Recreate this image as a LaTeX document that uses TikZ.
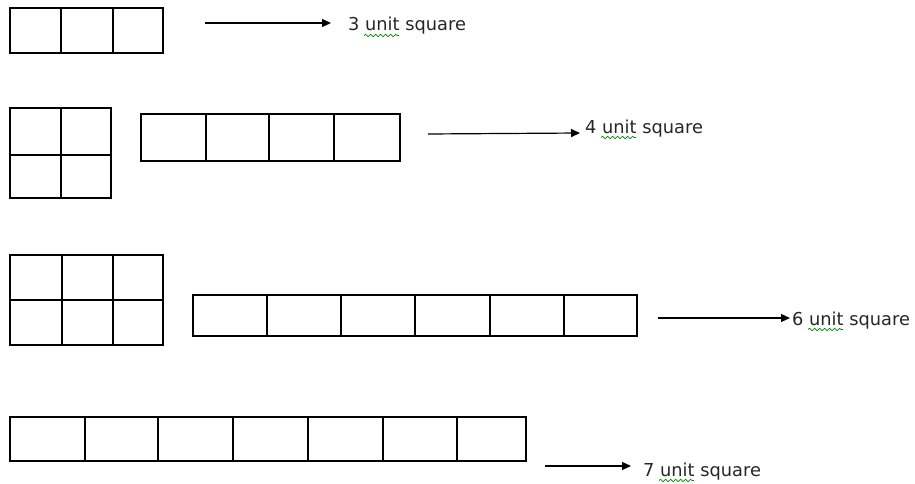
\documentclass[tikz,border=0pt]{standalone}
\usepackage{fontspec}
\setmainfont{DejaVu Sans}
\usetikzlibrary{arrows.meta,decorations.pathmorphing}
\begin{document}
\begin{tikzpicture}[x=1pt,y=-1pt,
  cell/.style={line width=1.5pt,line join=miter},
  arr/.style={line width=1.2pt,-{Triangle[length=9pt,width=8pt]}},
  lbl/.style={anchor=base west,inner sep=0pt,text=black!85,font=\fontsize{17.8}{21}\selectfont},
  squig/.style={draw=green!55!black,line width=0.7pt,decorate,decoration={snake,amplitude=1.2pt,segment length=5pt}}]
\useasboundingbox (0,0) rectangle (915,484);
% row 1
\draw[cell] (10,8) rectangle (163,53);
\foreach \x in {61,113} \draw[cell] (\x,8) -- (\x,53);
% row 2
\draw[cell] (10,108) rectangle (111,198);
\draw[cell] (61,108) -- (61,198);
\draw[cell] (10,155) -- (111,155);
\draw[cell] (141,114) rectangle (400,161);
\foreach \x in {206,269,334} \draw[cell] (\x,114) -- (\x,161);
% row 3
\draw[cell] (10,255) rectangle (163,345);
\foreach \x in {62,113} \draw[cell] (\x,255) -- (\x,345);
\draw[cell] (10,300) -- (163,300);
\draw[cell] (193,295) rectangle (637,336);
\foreach \x in {267,341,415,490,564} \draw[cell] (\x,295) -- (\x,336);
% row 4
\draw[cell] (10,417) rectangle (526,461);
\foreach \x in {85,158,233,308,383,457} \draw[cell] (\x,417) -- (\x,461);
% labels
\node[lbl] (t3) at (348,31) {3 unit square};
\node[lbl] (t4) at (585,133) {4 unit square};
\node[lbl] (t6) at (792,325) {6 unit square};
\node[lbl] (t7) at (643,476) {7 unit square};
% arrow starts
\coordinate (a3) at (205,23);
\coordinate (a4) at (428,134);
\coordinate (a6) at (658,318);
\coordinate (a7) at (545,466);
\draw[arr] (a3) -- (331,23);
\draw[arr] (a4) -- (580,133);
\draw[arr] (a6) -- (790,318);
\draw[arr] (a7) -- (631,466);
% spell-check squiggles
\foreach \t in {t3,t4,t6,t7}
  \draw[squig] ([xshift=16pt,yshift=-4.5pt]\t.base west) -- ++(35,0);
\end{tikzpicture}
\end{document}
